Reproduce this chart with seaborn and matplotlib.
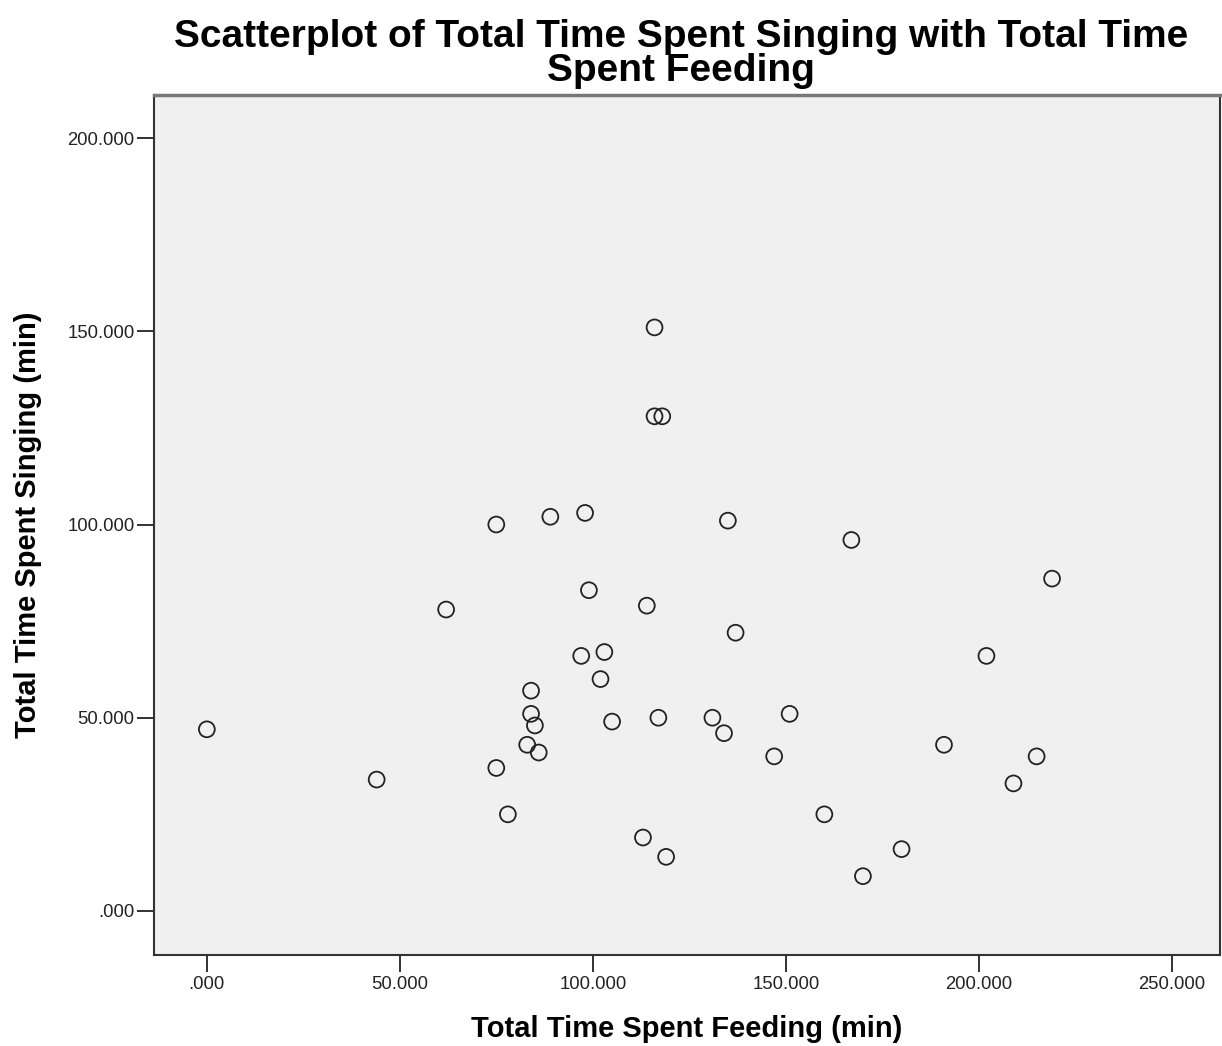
import matplotlib
matplotlib.use("Agg")
import matplotlib.pyplot as plt
import matplotlib.ticker as mticker
import pandas as pd
import seaborn as sns

# Werte
feeding = [0, 44, 62, 75, 75, 78, 89, 98, 99, 97, 103, 102, 84, 84, 85, 83, 86,
           105, 113, 119, 116, 116, 118, 135, 114, 137, 117, 131, 134, 151, 147,
           160, 167, 170, 180, 191, 202, 219, 215, 209]
singing = [47, 34, 78, 100, 37, 25, 102, 103, 83, 66, 67, 60, 57, 51, 48, 43, 41,
           49, 19, 14, 151, 128, 128, 101, 79, 72, 50, 50, 46, 51, 40,
           25, 96, 9, 16, 43, 66, 86, 40, 33]
x_ticks = [0, 50, 100, 150, 200, 250]
y_ticks = [0, 50, 100, 150, 200]

df = pd.DataFrame({"feeding": feeding, "singing": singing})

sns.set_style("ticks")
plt.rcParams["font.family"] = ["Liberation Sans", "DejaVu Sans"]

fig = plt.figure(figsize=(12.22, 10.46), dpi=100)
ax = fig.add_axes([0.126, 0.087, 0.872, 0.822])
ax.set_facecolor("#F0F0F0")

sns.scatterplot(data=df, x="feeding", y="singing", ax=ax, marker="o",
                s=130, facecolor="none", edgecolor="#222222", linewidth=1.3)

ax.set_xlim(-13.7, 262.4)
ax.set_ylim(-11.4, 211.1)
ax.set_xticks(x_ticks)
ax.set_yticks(y_ticks)
fmt = mticker.FuncFormatter(lambda v, p: ("%.3f" % v).lstrip("0"))
ax.xaxis.set_major_formatter(fmt)
ax.yaxis.set_major_formatter(fmt)
ax.tick_params(axis="both", direction="out", length=12, width=1.3,
               bottom=True, left=True, top=False, right=False,
               color="#222222", labelsize=13.3, labelcolor="#222222")
ax.tick_params(axis="y", pad=2)
ax.tick_params(axis="x", pad=3)

for side in ["left", "bottom", "right"]:
    ax.spines[side].set_color("#333333")
    ax.spines[side].set_linewidth(1.5)
ax.spines["top"].set_color("#777777")
ax.spines["top"].set_linewidth(2.5)

ax.set_xlabel("Total Time Spent Feeding (min)", fontsize=21, fontweight="bold",
              color="black", labelpad=16)
ax.set_ylabel("Total Time Spent Singing (min)", fontsize=21, fontweight="bold",
              color="black", labelpad=18)
fig.suptitle("Scatterplot of Total Time Spent Singing with Total Time\nSpent Feeding",
             x=0.557, y=0.982, fontsize=28, fontweight="bold", color="black",
             linespacing=0.95)

fig.savefig("out.png", dpi=100, facecolor="white")
